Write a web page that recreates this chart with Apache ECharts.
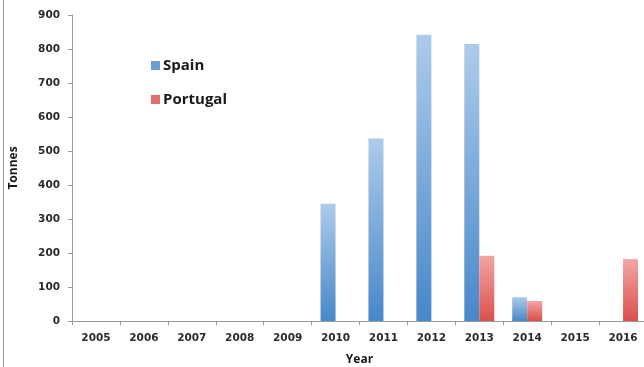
<!DOCTYPE html>
<html><head><meta charset="utf-8">
<script src="https://cdn.jsdelivr.net/npm/echarts@6/dist/echarts.min.js"></script>
<style>html,body{margin:0;padding:0;background:#fff}#c{width:644px;height:367px}</style>
</head><body><div id="c"></div>
<script>
const years = ['2005','2006','2007','2008','2009','2010','2011','2012','2013','2014','2015','2016'];
const spain = [null,null,null,null,null,345,537,842,815,70,null,null];
const portugal = [null,null,null,null,null,null,null,null,192,59,null,182];
const yTicks = [0,100,200,300,400,500,600,700,800,900];

const chart = echarts.init(document.getElementById('c'));
const grad = (top, bottom) => new echarts.graphic.LinearGradient(0,0,0,1,[{offset:0,color:top},{offset:1,color:bottom}]);
const font = 'Open Sans, Liberation Sans, sans-serif';
const tickFont = 'DejaVu Sans, sans-serif';
chart.setOption({
  animation:false,
  backgroundColor:'#fff',
  grid:{left:72,right:-3,top:15,bottom:46,containLabel:false,outerBoundsMode:'none'},
  legend:{
    orient:'vertical', left:146, top:53, itemWidth:9, itemHeight:9, itemGap:19,
    icon:'rect',
    textStyle:{fontFamily:font,fontWeight:'bold',fontSize:15,color:'#1a1a1a',padding:[0,0,0,-2]},
    data:[{name:'Spain',itemStyle:{color:'#6a9fd6'}},{name:'Portugal',itemStyle:{color:'#e07070'}}]
  },
  xAxis:{
    type:'category', data:years,
    name:'Year', nameLocation:'middle', nameGap:33,
    nameTextStyle:{fontFamily:font,fontWeight:'bold',fontSize:12,color:'#1a1a1a'},
    axisLine:{lineStyle:{color:'#9a9a9a'}},
    axisTick:{show:true,alignWithLabel:false,length:4,lineStyle:{color:'#9a9a9a'}},
    axisLabel:{fontFamily:tickFont,fontWeight:'bold',fontSize:10.5,color:'#2a2a2a',margin:12}
  },
  yAxis:{
    type:'value', min:0, max:900, interval:100,
    name:'Tonnes', nameLocation:'middle', nameGap:52, nameRotate:90,
    nameTextStyle:{fontFamily:font,fontWeight:'bold',fontSize:12,color:'#1a1a1a'},
    axisLine:{show:true,lineStyle:{color:'#9a9a9a'}},
    axisTick:{show:true,length:4,lineStyle:{color:'#9a9a9a'}},
    splitLine:{show:false},
    axisLabel:{fontFamily:tickFont,fontWeight:'bold',fontSize:10.5,color:'#2a2a2a',margin:12,
      formatter:v=>yTicks.includes(v)?String(v):''}
  },
  series:[
    {name:'Spain',type:'bar',data:spain,barWidth:15,barGap:'0%',
     itemStyle:{color:grad('#aecbea','#4887c9')}},
    {name:'Portugal',type:'bar',data:portugal,barWidth:15,barGap:'0%',
     itemStyle:{color:grad('#f3a5a5','#d9504c')}}
  ],
  graphic:[{type:'line',shape:{x1:3.5,y1:0,x2:3.5,y2:367},style:{stroke:'#9a9a9a',lineWidth:1}}]
});
</script></body></html>
